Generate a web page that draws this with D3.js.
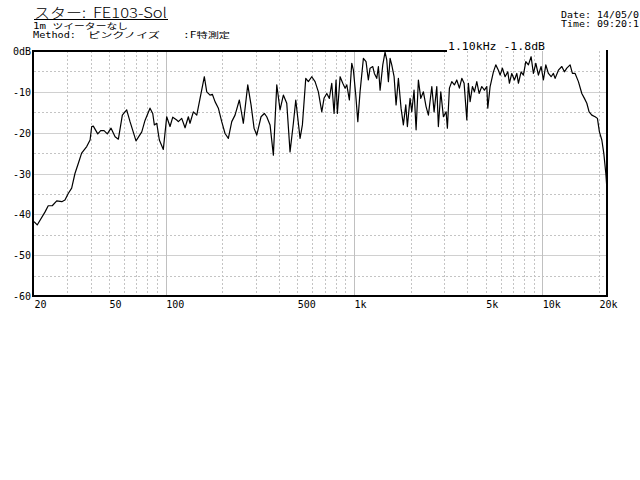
<!DOCTYPE html>
<html><head><meta charset="utf-8">
<script src="https://cdn.jsdelivr.net/npm/d3@7"></script>
<style>
html,body{margin:0;padding:0;background:#fff;}
svg{display:block;}
text{font-family:"DejaVu Sans Mono","Liberation Mono","Noto Sans CJK JP",monospace;fill:#000;}
.jp{font-family:"Noto Sans CJK JP","DejaVu Sans Mono",sans-serif;}
</style></head>
<body>
<script>
const freqs = [20,20.8,22.9,23.8,25.0,26.4,28.1,29.2,30.4,31.7,33.0,34.4,35.8,38.1,39.7,40.5,41.3,43.6,45.2,47.1,49.0,51.3,53.9,56.1,58.9,62.1,64.7,69.6,74.7,77.7,82.6,85.4,87.1,89.7,92.6,97.2,
101.3,105.5,109.1,114.5,116.8,121.7,126.8,132.0,134.7,140.3,146.3,152.3,160.5,165.3,172.1,177.0,182.9,190.5,198.5,206.7,215.2,224.4,233.6,246.2,258.6,272.9,284.1,294.8,304.6,321.0,334.2,344.2,358.4,373.2,389.1,405.0,421.7,439.6,457.6,476.6,490.8,517.3,532.2,554.6,572.5,596.8,621.4,647.0,674.6,694,717,740,762,784,803,816,844,872,897,916,945,973,993,
1022,1048,1077,1122,1159,1192,1217,1258,1283,1321,1348,1376,1422,1462,1493,1523,1555,1587,1633,1673,1721,1778,1829,1884,1921,1985,2027,2084,2137,2198,2263,2336,2414,2484,2590,2663,2752,2806,2890,2984,3084,3133,3211,3306,3413,3514,3628,3737,3843,3973,4050,4136,4255,4360,4488,4617,4771,4926,
5072,5134,5282,5499,5662,5845,5968,6138,6343,6556,6685,6885,7108,7320,7465,7715,7935,8172,8437,8719,8968,9235,9533,9853,10134,10437,10773,11134,11451,11692,12175,12690,13099,13490,14046,14446,14932,15546,16208,16731,17229,17718,18315,19070,19612,20098,20698,21210,21736,22050];
const levels = [-41.8,-42.6,-39.4,-37.9,-37.9,-36.7,-36.9,-36.5,-34.9,-33.6,-30.0,-27.5,-25.0,-23.4,-21.8,-18.5,-18.4,-20.3,-19.5,-19.5,-20.3,-18.9,-21.0,-21.6,-15.7,-14.4,-17.3,-22.0,-19.8,-17.0,-14.0,-15.3,-18.1,-17.7,-21.8,-24.1,
-16.1,-18.5,-16.2,-16.9,-17.3,-16.5,-18.8,-16.1,-17.7,-14.9,-15.7,-11.6,-6.3,-10.0,-10.8,-10.6,-12.4,-14.0,-17.3,-20.2,-21.4,-17.3,-15.7,-12.0,-17.7,-8.3,-13.2,-18.9,-20.6,-16.1,-15.3,-16.1,-18.1,-25.5,-8.3,-14.4,-10.8,-12.8,-24.7,-17.7,-12.0,-21.4,-18.1,-6.7,-7.5,-6.3,-7.5,-10.0,-14.9,-11.5,-10.4,-11.6,-7.9,-15.3,-7.1,-15.3,-6.3,-7.9,-9.1,-8.3,-12.0,-3.0,-4.7,
-10.8,-17.3,-10.0,-1.8,-2.6,-7.1,-4.2,-3.8,-5.5,-6.7,-3.8,-9.6,-3.4,-0.3,-2.2,-7.5,-1.8,-3.4,-6.3,-13.2,-6.7,-14.0,-18.1,-13.2,-18.5,-11.6,-14.9,-9.6,-19.3,-7.1,-11.6,-10.0,-13.6,-15.7,-8.7,-14.9,-8.7,-18.5,-10.0,-16.1,-14.9,-18.9,-9.1,-7.5,-8.3,-7.1,-9.1,-6.7,-7.9,-16.9,-7.9,-12.4,-8.7,-10.0,-7.5,-10.4,-8.7,-9.6,
-8.7,-14.0,-8.7,-5.1,-3.4,-4.7,-5.9,-4.2,-6.3,-5.1,-7.9,-5.5,-7.1,-5.5,-7.9,-5.1,-5.9,-2.6,-3.4,-1.4,-5.5,-3.0,-5.9,-3.8,-7.1,-3.4,-5.5,-6.3,-5.5,-6.7,-4.7,-3.8,-5.1,-4.2,-3.4,-5.5,-5.5,-7.5,-10.4,-11.6,-12.8,-14.9,-15.7,-16.1,-16.5,-19.8,-21.8,-25.1,-30.0,-34.0];

const xTickValues = [20,50,100,500,1000,5000,10000,20000];
const xTickLabels = ["20","50","100","500","1k","5k","10k","20k"];
const yTickValues = [0,-10,-20,-30,-40,-50,-60];
const yTickLabels = ["0dB","-10","-20","-30","-40","-50","-60"];
const freqGrid = [30,40,50,60,70,80,90,100,200,300,400,500,600,700,800,900,1000,2000,3000,4000,5000,6000,7000,8000,9000,10000,20000];
const solidFreqGrid = [100,1000,10000];
const dbGrid = [-5,-10,-15,-20,-25,-30,-35,-40,-45,-50,-55];

const titleParts = ["スター:", "FE103-Sol"];
const subText1 = "1m ツイーターなし";
const subParts2 = ["Method:", "ピンクノイズ", ":F特測定"];
const dateText = "Date: 14/05/0";
const timeText = "Time: 09:20:1";
const cursorText = "1.10kHz  -1.8dB";

const W = 640, H = 480;
const svg = d3.select("body").append("svg").attr("width", W).attr("height", H);
svg.append("rect").attr("width", W).attr("height", H).attr("fill", "#fff");

const x = d3.scaleLog().domain([20, 22050]).range([34, 607]);
const y = d3.scaleLinear().domain([-60, 0]).range([296, 51]);

// grid
const g = svg.append("g").attr("shape-rendering", "crispEdges");
g.selectAll("line.hg").data(dbGrid).join("line")
  .attr("x1", x(20)).attr("x2", x(22050))
  .attr("y1", d => Math.round(y(d)) + 0.5).attr("y2", d => Math.round(y(d)) + 0.5)
  .attr("stroke", d => d % 10 === 0 ? "#d0d0d0" : "#c4c4c4")
  .attr("stroke-dasharray", d => d % 10 === 0 ? null : "2,2");
g.selectAll("line.vg").data(freqGrid).join("line")
  .attr("x1", d => Math.round(x(d)) + 0.5).attr("x2", d => Math.round(x(d)) + 0.5)
  .attr("y1", y(0)).attr("y2", y(-60))
  .attr("stroke", d => solidFreqGrid.includes(d) ? "#c0c0c0" : "#c4c4c4")
  .attr("stroke-dasharray", d => solidFreqGrid.includes(d) ? null : "2,2");

// curve
const line = d3.line().x((d, i) => x(freqs[i])).y(d => y(d));
svg.append("path").datum(levels).attr("d", line)
  .attr("fill", "none").attr("stroke", "#000").attr("stroke-width", 1.2)
  .attr("stroke-linejoin", "round");

// frame
const fr = svg.append("g").attr("stroke", "#000").attr("stroke-width", 2).attr("shape-rendering", "crispEdges");
fr.append("line").attr("x1", 33).attr("x2", 33).attr("y1", y(0) - 1).attr("y2", y(-60) + 1);
fr.append("line").attr("x1", 32).attr("x2", 608).attr("y1", y(-60)).attr("y2", y(-60));
fr.append("line").attr("x1", 607).attr("x2", 607).attr("y1", y(0) - 1).attr("y2", y(-60) + 1);
fr.append("line").attr("x1", 32).attr("x2", 447).attr("y1", y(0)).attr("y2", y(0));

// axes labels
const axisX = d3.axisBottom(x).tickValues(xTickValues).tickFormat((d, i) => xTickLabels[i]).tickSize(0).tickPadding(0);
const ax = svg.append("g").attr("transform", `translate(0,${y(-60)})`).call(axisX);
ax.select(".domain").remove();
ax.selectAll("text").attr("text-anchor", "start").attr("dy", null).attr("y", 11.5)
  .style("font-family", "DejaVu Sans Mono").style("font-size", "10px").attr("fill", "#000");

const axisY = d3.axisLeft(y).tickValues(yTickValues).tickFormat((d, i) => yTickLabels[i]).tickSize(0).tickPadding(0);
const ay = svg.append("g").attr("transform", "translate(31,0)").call(axisY);
ay.select(".domain").remove();
ay.selectAll("text").attr("x", 0).attr("dy", "0.35em")
  .style("font-family", "DejaVu Sans Mono").style("font-size", "10px").attr("fill", "#000");

// header texts
const title = svg.append("text").attr("class", "jp").attr("y", 18).style("font-size", "14px").style("font-weight", 300);
title.append("tspan").attr("x", 34).attr("textLength", 52).attr("lengthAdjust", "spacingAndGlyphs").text(titleParts[0]);
title.append("tspan").attr("x", 93).attr("textLength", 74).attr("lengthAdjust", "spacingAndGlyphs").text(titleParts[1]);
svg.append("line").attr("x1", 34).attr("x2", 168).attr("y1", 19.5).attr("y2", 19.5)
  .attr("stroke", "#000").attr("stroke-width", 1);

svg.append("text").attr("x", 33).attr("y", 28.5).style("font-size", "8px")
  .attr("textLength", 95).attr("lengthAdjust", "spacingAndGlyphs").text(subText1);
const s2 = svg.append("text").attr("y", 37.5).style("font-size", "8px");
s2.append("tspan").attr("x", 33).attr("textLength", 43).attr("lengthAdjust", "spacingAndGlyphs").text(subParts2[0]);
s2.append("tspan").attr("x", 88).attr("textLength", 72).attr("lengthAdjust", "spacingAndGlyphs").text(subParts2[1]);
s2.append("tspan").attr("x", 183).attr("textLength", 47).attr("lengthAdjust", "spacingAndGlyphs").text(subParts2[2]);

svg.append("text").attr("x", 561).attr("y", 17.5).style("font-size", "8.5px")
  .attr("textLength", 78).attr("lengthAdjust", "spacingAndGlyphs").text(dateText);
svg.append("text").attr("x", 561).attr("y", 27).style("font-size", "8.5px")
  .attr("textLength", 78).attr("lengthAdjust", "spacingAndGlyphs").text(timeText);
svg.append("text").attr("x", 448).attr("y", 49.5).style("font-size", "10px")
  .attr("textLength", 97).attr("lengthAdjust", "spacingAndGlyphs").text(cursorText);
</script>
</body></html>
